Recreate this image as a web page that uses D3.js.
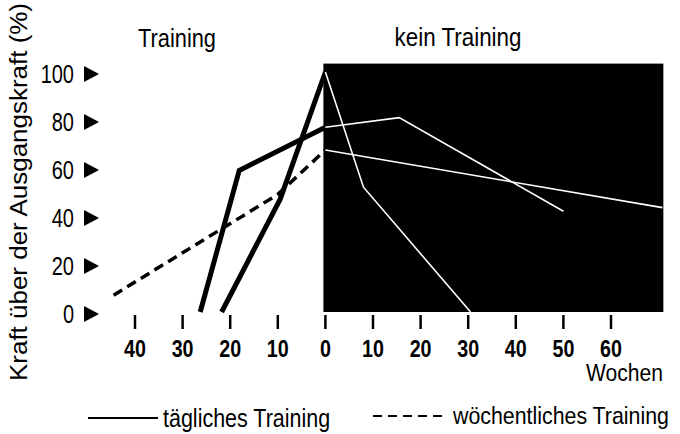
<!DOCTYPE html>
<html>
<head>
<meta charset="utf-8">
<script src="https://cdn.jsdelivr.net/npm/d3@7"></script>
<style>
	body { margin: 0; background: #fff; }
	svg { display: block; }
	text { font-family: "Liberation Sans", Arial, sans-serif; fill: #000; }
</style>
</head>
<body>
<svg id="chart" width="680" height="434"></svg>
<script>
// Values: weeks (negative = training phase) and strength in %
const yTicks = [0, 20, 40, 60, 80, 100];
const xTicksTraining = [-40, -30, -20, -10, 0];
const xTicksRest = [10, 20, 30, 40, 50, 60];
const phaseLabels = ['Training', 'kein Training'];
const restPhase = [0, 71]; // weeks covered by the black block
const restTop = 103.5;

// tägliches Training, two curves; training part + detraining part
const dailyA = [[-26.3, 0], [-18.1, 59], [0, 77]];
const dailyARest = [[0, 77], [15.5, 81], [50, 42]];
const dailyB = [[-21.8, 0], [-9.5, 47], [0, 100]];
const dailyBRest = [[0, 100], [8, 52], [30.5, 0]];
// wöchentliches Training
const weekly = [[-44.5, 7], [-10, 49], [0, 67.5]];
const weeklyRest = [[0, 67.5], [70.8, 43.5]];

const legendItems = ['tägliches Training', 'wöchentliches Training'];

const svg = d3.select('#chart');

const x = d3.scaleLinear().domain([-40, 60]).range([135, 611]);
const y = d3.scaleLinear().domain([0, 100]).range([312, 72]);

const line = d3.line().x(d => x(d[0])).y(d => y(d[1]));

// the scan uses a narrow face, squeeze the text horizontally
function narrow(sel, f) {
	sel.each(function() {
		const w = this.getComputedTextLength();
		d3.select(this)
			.attr('textLength', w * f)
			.attr('lengthAdjust', 'spacingAndGlyphs');
	});
}

// black "kein Training" block
svg.append('rect')
	.attr('x', x(restPhase[0]) - 2)
	.attr('y', y(restTop))
	.attr('width', x(restPhase[1]) - x(restPhase[0]) + 2)
	.attr('height', y(0) - y(restTop))
	.style('fill', '#000');

// phase titles
svg.append('text')
	.attr('x', 177).attr('y', 47)
	.attr('text-anchor', 'middle')
	.style('font-size', '25px')
	.attr('textLength', 78)
	.attr('lengthAdjust', 'spacingAndGlyphs')
	.text(phaseLabels[0]);
svg.append('text')
	.attr('x', 458).attr('y', 46)
	.attr('text-anchor', 'middle')
	.style('font-size', '25px')
	.attr('textLength', 127)
	.attr('lengthAdjust', 'spacingAndGlyphs')
	.text(phaseLabels[1]);

// y axis: labels with little arrow heads
const gY = svg.append('g').attr('class', 'y_axis');
gY.selectAll('.y_label')
	.data(yTicks).enter()
	.append('text')
	.attr('class', 'y_label')
	.attr('x', 74)
	.attr('y', d => y(d) + 11)
	.attr('text-anchor', 'end')
	.style('font-size', '25px')
	.text(d => d)
	.call(narrow, 0.8);
gY.selectAll('.y_arrow')
	.data(yTicks).enter()
	.append('path')
	.attr('class', 'y_arrow')
	.attr('d', d => {
		const cy = y(d) + 2;
		return 'M84,' + (cy - 8) + 'L99,' + cy + 'L84,' + (cy + 8) + 'Z';
	})
	.style('fill', '#000');

svg.append('text')
	.attr('transform', 'translate(27,192) rotate(-90)')
	.attr('text-anchor', 'middle')
	.style('font-size', '23px')
	.attr('textLength', 378)
	.attr('lengthAdjust', 'spacingAndGlyphs')
	.text('Kraft über der Ausgangskraft (%)');

// x axis: short tick marks and bold labels, weeks counted both ways from 0
const xTicks = xTicksTraining.concat(xTicksRest);
const gX = svg.append('g').attr('class', 'x_axis');
gX.selectAll('.x_tick')
	.data(xTicks).enter()
	.append('line')
	.attr('class', 'x_tick')
	.attr('x1', d => x(d)).attr('x2', d => x(d))
	.attr('y1', 315).attr('y2', 329)
	.style('stroke', '#000')
	.style('stroke-width', 2.5);
gX.selectAll('.x_label')
	.data(xTicks).enter()
	.append('text')
	.attr('class', 'x_label')
	.attr('x', d => x(d))
	.attr('y', 357)
	.attr('text-anchor', 'middle')
	.style('font-size', '24px')
	.style('font-weight', 'bold')
	.text(d => Math.abs(d))
	.call(narrow, 0.82);

svg.append('text')
	.attr('x', 663).attr('y', 381)
	.attr('text-anchor', 'end')
	.style('font-size', '23px')
	.attr('textLength', 77)
	.attr('lengthAdjust', 'spacingAndGlyphs')
	.text('Wochen');

// training phase: black lines
svg.selectAll('.train_line')
	.data([dailyA, dailyB]).enter()
	.append('path')
	.attr('class', 'train_line')
	.attr('d', line)
	.style('fill', 'none')
	.style('stroke', '#000')
	.style('stroke-width', 5)
	.style('stroke-linejoin', 'miter');

svg.append('path')
	.attr('class', 'train_line weekly')
	.attr('d', line(weekly))
	.style('fill', 'none')
	.style('stroke', '#000')
	.style('stroke-width', 3.5)
	.style('stroke-dasharray', '10,6');

// no training phase: thin white lines
svg.selectAll('.rest_line')
	.data([dailyARest, dailyBRest, weeklyRest]).enter()
	.append('path')
	.attr('class', 'rest_line')
	.attr('d', line)
	.style('fill', 'none')
	.style('stroke', '#fff')
	.style('stroke-width', 1.6);

// legend
const gLegend = svg.append('g').attr('class', 'legend');
gLegend.append('line')
	.attr('x1', 88).attr('x2', 158)
	.attr('y1', 418).attr('y2', 418)
	.style('stroke', '#000')
	.style('stroke-width', 2);
gLegend.append('text')
	.attr('transform', 'translate(163,427) scale(0.86,1)')
	.style('font-size', '25px')
	.text(legendItems[0]);
gLegend.append('line')
	.attr('x1', 373).attr('x2', 444)
	.attr('y1', 416).attr('y2', 416)
	.style('stroke', '#000')
	.style('stroke-width', 2)
	.style('stroke-dasharray', '9,6');
gLegend.append('text')
	.attr('transform', 'translate(453,424) scale(0.89,1)')
	.style('font-size', '24px')
	.text(legendItems[1]);
</script>
</body>
</html>
